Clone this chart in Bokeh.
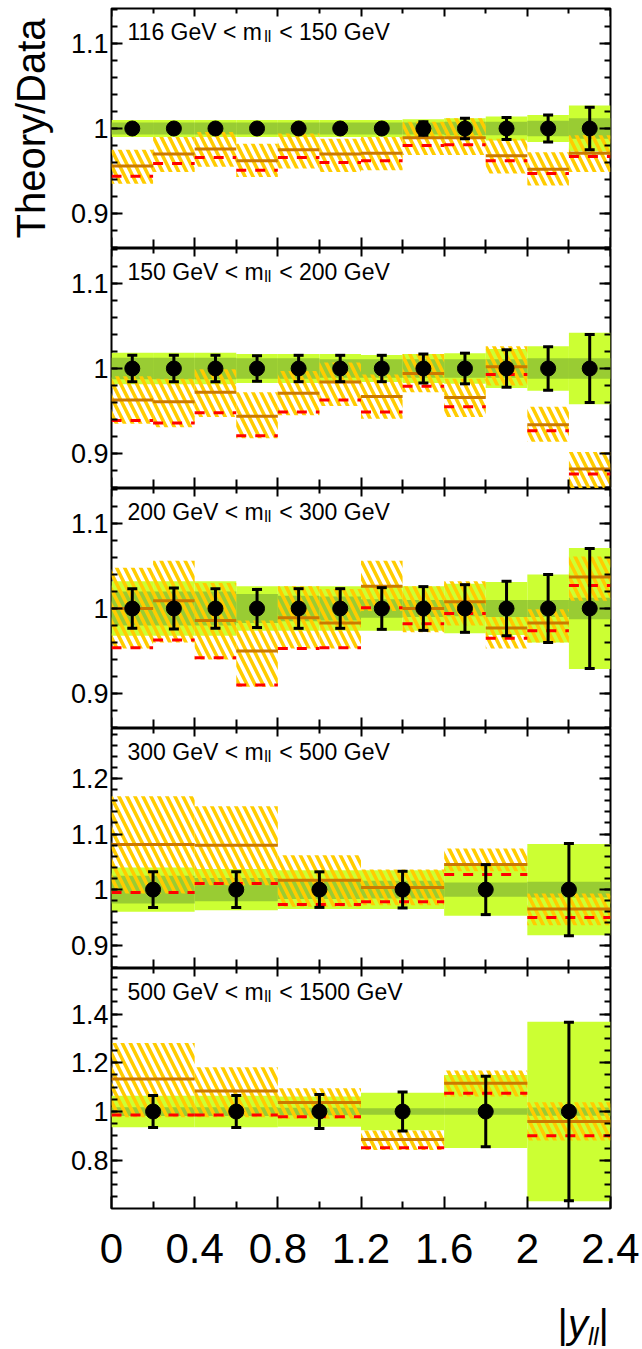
from bokeh.plotting import figure
from bokeh.layouts import column
from bokeh.models import (ColumnDataSource, FixedTicker, LinearAxis, Label, Whisker,
                          TeeHead, Range1d, CustomJSTickFormatter, Grid, Div)
from bokeh.embed import file_html
from bokeh.resources import INLINE

# ---------------- data ----------------
edges_fine = [0.0, 0.2, 0.4, 0.6, 0.8, 1.0, 1.2, 1.4, 1.6, 1.8, 2.0, 2.2, 2.4]
edges_coarse = [0.0, 0.4, 0.8, 1.2, 1.6, 2.0, 2.4]

mass_low = ["116", "150", "200", "300", "500"]
mass_high = ["150", "200", "300", "500", "1500"]

# panel 1 : 116 < m_ll < 150 GeV
m1_theory = [0.956, 0.970, 0.976, 0.962, 0.975, 0.970, 0.971, 0.989, 0.989, 0.968, 0.952, 0.971]
m1_theory_hi = [0.975, 0.990, 0.996, 0.982, 0.994, 0.988, 0.990, 1.008, 1.012, 0.988, 0.972, 0.992]
m1_theory_lo = [0.935, 0.949, 0.955, 0.943, 0.953, 0.949, 0.951, 0.969, 0.969, 0.947, 0.933, 0.949]
m1_theory2 = [0.944, 0.959, 0.966, 0.951, 0.966, 0.960, 0.962, 0.980, 0.981, 0.962, 0.947, 0.967]
m1_data_err = [0.004, 0.004, 0.004, 0.004, 0.004, 0.004, 0.005, 0.008, 0.012, 0.013, 0.016, 0.025]
m1_tot_unc = [0.010, 0.010, 0.010, 0.010, 0.010, 0.010, 0.010, 0.011, 0.012, 0.014, 0.016, 0.027]
m1_stat_unc = [0.007, 0.007, 0.007, 0.007, 0.007, 0.007, 0.007, 0.007, 0.008, 0.008, 0.009, 0.012]

# panel 2 : 150 < m_ll < 200 GeV
m2_theory = [0.963, 0.961, 0.972, 0.944, 0.971, 0.984, 0.967, 0.994, 0.966, 1.002, 0.934, 0.882]
m2_theory_hi = [0.991, 0.988, 0.999, 0.972, 0.997, 1.007, 0.993, 1.017, 0.988, 1.026, 0.955, 0.902]
m2_theory_lo = [0.935, 0.931, 0.943, 0.918, 0.945, 0.956, 0.941, 0.972, 0.943, 0.980, 0.914, 0.857]
m2_theory2 = [0.939, 0.936, 0.948, 0.921, 0.949, 0.963, 0.949, 0.979, 0.955, 0.993, 0.927, 0.876]
m2_data_err = [0.0155, 0.0155, 0.0155, 0.015, 0.0155, 0.0155, 0.0155, 0.017, 0.018, 0.022, 0.0255, 0.040]
m2_tot_unc = [0.0185, 0.0185, 0.0185, 0.017, 0.017, 0.017, 0.016, 0.017, 0.018, 0.023, 0.026, 0.042]
m2_stat_unc = [0.0125, 0.0125, 0.0125, 0.012, 0.012, 0.011, 0.011, 0.011, 0.011, 0.011, 0.012, 0.012]

# panel 3 : 200 < m_ll < 300 GeV
m3_theory = [1.000, 1.009, 0.986, 0.950, 0.989, 0.983, 1.026, 1.000, 1.008, 0.977, 0.983, 1.037]
m3_theory_hi = [1.048, 1.056, 1.030, 0.986, 1.026, 1.023, 1.056, 1.026, 1.032, 0.990, 0.999, 1.061]
m3_theory_lo = [0.953, 0.960, 0.940, 0.908, 0.953, 0.953, 0.997, 0.972, 0.980, 0.953, 0.960, 1.009]
m3_theory2 = [0.954, 0.963, 0.942, 0.910, 0.953, 0.954, 1.001, 0.982, 0.994, 0.965, 0.974, 1.027]
m3_data_err = [0.0233, 0.024, 0.0233, 0.0224, 0.0233, 0.0233, 0.0245, 0.0257, 0.028, 0.032, 0.040, 0.0705]
m3_tot_unc = [0.032, 0.032, 0.032, 0.026, 0.026, 0.026, 0.026, 0.026, 0.029, 0.031, 0.040, 0.071]
m3_stat_unc = [0.020, 0.020, 0.020, 0.017, 0.015, 0.014, 0.011, 0.010, 0.009, 0.010, 0.010, 0.0125]

# panel 4 : 300 < m_ll < 500 GeV
m4_theory = [1.081, 1.080, 1.017, 1.004, 1.045, 0.965]
m4_theory_hi = [1.168, 1.150, 1.062, 1.036, 1.074, 0.993]
m4_theory_lo = [0.993, 1.008, 0.969, 0.972, 1.033, 0.936]
m4_theory2 = [0.995, 1.011, 0.973, 0.978, 1.027, 0.950]
m4_data_err = [0.032, 0.032, 0.032, 0.033, 0.045, 0.083]
m4_tot_unc = [0.040, 0.037, 0.035, 0.035, 0.047, 0.082]
m4_stat_unc = [0.025, 0.021, 0.017, 0.016, 0.013, 0.014]

# panel 5 : 500 < m_ll < 1500 GeV
m5_theory = [1.133, 1.084, 1.037, 0.885, 1.116, 0.959]
m5_theory_hi = [1.281, 1.182, 1.096, 0.922, 1.168, 1.038]
m5_theory_lo = [0.977, 0.977, 0.970, 0.842, 1.062, 0.881]
m5_theory2 = [0.986, 0.986, 0.979, 0.851, 1.075, 0.901]
m5_data_err = [0.066, 0.066, 0.070, 0.080, 0.145, 0.366]
m5_tot_unc = [0.065, 0.065, 0.062, 0.077, 0.150, 0.368]
m5_stat_unc = [0.018, 0.018, 0.015, 0.013, 0.013, 0.017]

# axis ranges / ticks
y_ranges = [(0.859, 1.141), (0.859, 1.141), (0.859, 1.141), (0.858, 1.290), (0.602, 1.587)]
y_major = [[0.9, 1.0, 1.1], [0.9, 1.0, 1.1], [0.9, 1.0, 1.1], [0.9, 1.0, 1.1, 1.2], [0.8, 1.0, 1.2, 1.4]]
y_minor_step = [0.02, 0.02, 0.02, 0.02, 0.05]
x_major = [0.0, 0.4, 0.8, 1.2, 1.6, 2.0, 2.4]
x_minor = [0.2, 0.6, 1.0, 1.4, 1.8, 2.2]

# ---------------- style ----------------
FONT = "Liberation Sans"
W = 642
H_TOTAL = 1349
FRAME_LEFT = 111
FRAME_RIGHT_BORDER = 32
FRAME_H = 240
TOP_BORDER = 8
BOTTOM_BORDER = 80

C_LIGHT = "#ccff33"
C_DARK = "#99cc33"
C_HATCH = "#ffcc00"
C_THEORY = "#cc7a00"
C_THEORY2 = "#ff0000"

ARIAL_W = {' ': 278, '0': 556, '1': 556, '2': 556, '3': 556, '4': 556, '5': 556, '6': 556,
           '7': 556, '8': 556, '9': 556, 'G': 778, 'e': 556, 'V': 667, '<': 584, 'm': 833,
           'l': 222, '|': 260, 'y': 500}


def tw(s, size):
    return sum(ARIAL_W.get(c, 556) for c in s) * size / 1000.0


def no_grid(p):
    for g in p.select(type=Grid):
        g.visible = False


fmt = CustomJSTickFormatter(code="return (Math.round(tick*100)/100).toString();")

panels = [
    (edges_fine, m1_theory, m1_theory_lo, m1_theory_hi, m1_theory2, m1_data_err, m1_tot_unc, m1_stat_unc),
    (edges_fine, m2_theory, m2_theory_lo, m2_theory_hi, m2_theory2, m2_data_err, m2_tot_unc, m2_stat_unc),
    (edges_fine, m3_theory, m3_theory_lo, m3_theory_hi, m3_theory2, m3_data_err, m3_tot_unc, m3_stat_unc),
    (edges_coarse, m4_theory, m4_theory_lo, m4_theory_hi, m4_theory2, m4_data_err, m4_tot_unc, m4_stat_unc),
    (edges_coarse, m5_theory, m5_theory_lo, m5_theory_hi, m5_theory2, m5_data_err, m5_tot_unc, m5_stat_unc),
]

figs = []
used_h = 0
for k, (edges, th, th_lo, th_hi, th2, derr, tot, stat) in enumerate(panels):
    first = k == 0
    last = k == len(panels) - 1
    top_b = TOP_BORDER if first else 0
    bot_b = BOTTOM_BORDER if last else 0
    y0, y1 = y_ranges[k]
    p = figure(width=W, height=FRAME_H + top_b + bot_b,
               x_range=Range1d(0, 2.4), y_range=Range1d(y0, y1),
               output_backend="svg", toolbar_location=None,
               x_axis_location=None, y_axis_location=None,
               min_border_left=FRAME_LEFT, min_border_right=FRAME_RIGHT_BORDER,
               min_border_top=top_b, min_border_bottom=bot_b)
    used_h += FRAME_H + top_b + bot_b
    no_grid(p)
    p.outline_line_color = "black"
    p.outline_line_width = 2
    p.background_fill_color = "white"
    p.border_fill_color = "white"

    n = len(th)
    left = edges[:-1]
    right = edges[1:]
    center = [(a + b) / 2 for a, b in zip(left, right)]
    ratio = [1.0] * n
    src = ColumnDataSource(dict(
        left=left, right=right, x=center, y=ratio,
        tot_lo=[1 - u for u in tot], tot_hi=[1 + u for u in tot],
        st_lo=[1 - u for u in stat], st_hi=[1 + u for u in stat],
        th=th, th_lo=th_lo, th_hi=th_hi, th2=th2,
        e_lo=[1 - e for e in derr], e_hi=[1 + e for e in derr],
    ))

    p.quad(left="left", right="right", bottom="tot_lo", top="tot_hi", source=src,
           fill_color=C_LIGHT, line_color=None)
    p.quad(left="left", right="right", bottom="st_lo", top="st_hi", source=src,
           fill_color=C_DARK, line_color=None)
    p.quad(left="left", right="right", bottom="th_lo", top="th_hi", source=src,
           fill_color=None, line_color=None, hatch_pattern="\\",
           hatch_color=C_HATCH, hatch_weight=3.5, hatch_scale=16)
    p.segment(x0="left", x1="right", y0="th", y1="th", source=src,
              line_color=C_THEORY, line_width=3)
    p.segment(x0="left", x1="right", y0="th2", y1="th2", source=src,
              line_color=C_THEORY2, line_width=3, line_dash="10 9")
    p.scatter(x="x", y="y", source=src, size=15, color="black")
    wh = Whisker(source=src, base="x", lower="e_lo", upper="e_hi", line_color="black",
                 line_width=3, level="annotation",
                 upper_head=TeeHead(size=10, line_width=3, line_color="black"),
                 lower_head=TeeHead(size=10, line_width=3, line_color="black"))
    p.add_layout(wh)

    # y axis (left, labelled)
    step = y_minor_step[k]
    nmin = int(round((y1 - y0) / step)) + 2
    start = round(y0 / step) * step
    minors = [round(start + i * step, 3) for i in range(nmin)]
    ya = LinearAxis(ticker=FixedTicker(ticks=y_major[k], minor_ticks=minors),
                    formatter=fmt,
                    major_tick_in=11, major_tick_out=0, minor_tick_in=6, minor_tick_out=0,
                    major_tick_line_width=2, minor_tick_line_width=2,
                    axis_line_color=None, major_label_standoff=3,
                    major_label_text_font=FONT, major_label_text_font_size="27px",
                    major_label_text_color="black")
    if first:
        ya.axis_label = "Theory/Data"
        ya.axis_label_text_font = FONT
        ya.axis_label_text_font_size = "40px"
        ya.axis_label_text_font_style = "normal"
        ya.axis_label_text_color = "black"
        ya.axis_label_standoff = 15
    p.add_layout(ya, "left")
    # mirrored y ticks on the right
    yr = LinearAxis(ticker=FixedTicker(ticks=y_major[k], minor_ticks=minors),
                    fixed_location=2.4, major_tick_in=11, major_tick_out=0,
                    minor_tick_in=6, minor_tick_out=0,
                    major_tick_line_width=2, minor_tick_line_width=2,
                    axis_line_color=None, major_label_text_color=None)
    p.add_layout(yr, "right")

    # x ticks top and bottom
    xt = LinearAxis(ticker=FixedTicker(ticks=x_major, minor_ticks=x_minor),
                    fixed_location=y1, major_tick_in=8, major_tick_out=0,
                    minor_tick_in=5, minor_tick_out=0,
                    major_tick_line_width=2, minor_tick_line_width=2,
                    axis_line_color=None, major_label_text_color=None)
    p.add_layout(xt, "above")
    if last:
        xb = LinearAxis(ticker=FixedTicker(ticks=x_major, minor_ticks=x_minor),
                        formatter=fmt,
                        major_tick_in=12, major_tick_out=0, minor_tick_in=7, minor_tick_out=0,
                        major_tick_line_width=2, minor_tick_line_width=2,
                        axis_line_color=None, major_label_standoff=25,
                        major_label_text_font=FONT, major_label_text_font_size="42px",
                        major_label_text_color="black")
        p.add_layout(xb, "below")
    else:
        xb = LinearAxis(ticker=FixedTicker(ticks=x_major, minor_ticks=x_minor),
                        fixed_location=y0, major_tick_in=11, major_tick_out=0,
                        minor_tick_in=9, minor_tick_out=0,
                        major_tick_line_width=2, minor_tick_line_width=2,
                        axis_line_color=None, major_label_text_color=None)
        p.add_layout(xb, "below")

    # panel caption: "lo GeV < m_ll < hi GeV"
    fs, fsub = 23, 16
    t1 = mass_low[k] + " GeV < m"
    t3 = "< " + mass_high[k] + " GeV"
    ybase = FRAME_H - 23
    p.add_layout(Label(x=0.077, y=ybase, x_units="data", y_units="screen", text=t1,
                       text_font=FONT, text_font_size=f"{fs}px", text_baseline="alphabetic",
                       text_color="black"))
    p.add_layout(Label(x=0.077, y=ybase - 5, x_units="data", y_units="screen", text="ll",
                       x_offset=tw(t1, fs) + 0.5,
                       text_font=FONT, text_font_size=f"{fsub}px", text_baseline="alphabetic",
                       text_color="black"))
    p.add_layout(Label(x=0.077, y=ybase, x_units="data", y_units="screen", text=t3,
                       x_offset=tw(t1, fs) + tw("ll", fsub) + tw(" ", fs) + 2,
                       text_font=FONT, text_font_size=f"{fs}px", text_baseline="alphabetic",
                       text_color="black"))
    figs.append(p)

# x-axis title |y_ll| right-aligned under the frame end
title_h = H_TOTAL - used_h
title_html = (
    f'<div style="display:block;width:{W}px;box-sizing:border-box;'
    'font-family:\'Liberation Sans\',Arial,sans-serif;font-size:40px;'
    'line-height:40px;text-align:right;color:black;white-space:nowrap;'
    f'padding-right:{FRAME_RIGHT_BORDER + 1}px;padding-top:16px;margin:0;">'
    '|<i>y</i><sub style="font-size:24px;line-height:0;vertical-align:-7px;">'
    '<i>ll</i></sub>|</div>'
)
title_div = Div(text=title_html, width=W, height=title_h, margin=0)
figs.append(title_div)

layout = column(*figs, spacing=0)
open("out.html", "w").write(file_html(layout, INLINE))
